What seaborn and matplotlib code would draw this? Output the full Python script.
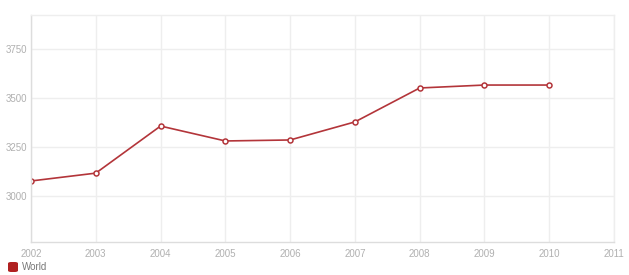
import matplotlib
matplotlib.use("Agg")
import matplotlib.pyplot as plt
import seaborn as sns
import pandas as pd
from matplotlib.patches import FancyBboxPatch

years = [2002, 2003, 2004, 2005, 2006, 2007, 2008, 2009, 2010]
world = [3077, 3117, 3357, 3281, 3286, 3378, 3551, 3566, 3566]
x_ticks = list(range(2002, 2012))
y_ticks = [3000, 3250, 3500, 3750]

df = pd.DataFrame({"year": years, "value": world})

sns.set_theme(style="white")
plt.rcParams["font.family"] = ["Arial", "Liberation Sans", "DejaVu Sans"]

fig = plt.figure(figsize=(6.29, 2.75), dpi=100)
ax = fig.add_axes([31 / 629, 33 / 275, 583 / 629, 227 / 275])

line_color = "#b3353a"
sns.lineplot(data=df, x="year", y="value", ax=ax, color=line_color, linewidth=1.2,
             marker="o", markersize=3.6, markerfacecolor="white",
             markeredgecolor=line_color, markeredgewidth=1.1)

ax.set_xlim(2002, 2011)
ax.set_ylim(2766, 3923)
ax.set_xticks(x_ticks)
ax.set_yticks(y_ticks)
ax.set_xlabel("")
ax.set_ylabel("")
ax.grid(True, color="#eeeeee", linewidth=1)
ax.set_axisbelow(True)
for side in ["top", "right"]:
    ax.spines[side].set_color("#eeeeee")
for side in ["left", "bottom"]:
    ax.spines[side].set_color("#dddddd")
for s in ax.spines.values():
    s.set_linewidth(1)
ax.tick_params(axis="both", length=0, labelsize=7, labelcolor="#b0b0b0")
ax.tick_params(axis="x", pad=5)
ax.tick_params(axis="y", pad=3)

# legend
fig.patches.append(FancyBboxPatch((8 / 629, 3 / 275), 10 / 629, 10 / 275,
                                  boxstyle="round,pad=0,rounding_size=0.005",
                                  transform=fig.transFigure, facecolor="#b02020",
                                  edgecolor="none"))
fig.text(22 / 629, 8 / 275, "World", fontsize=7, color="#777777", va="center")

fig.savefig("out.png", dpi=100)
